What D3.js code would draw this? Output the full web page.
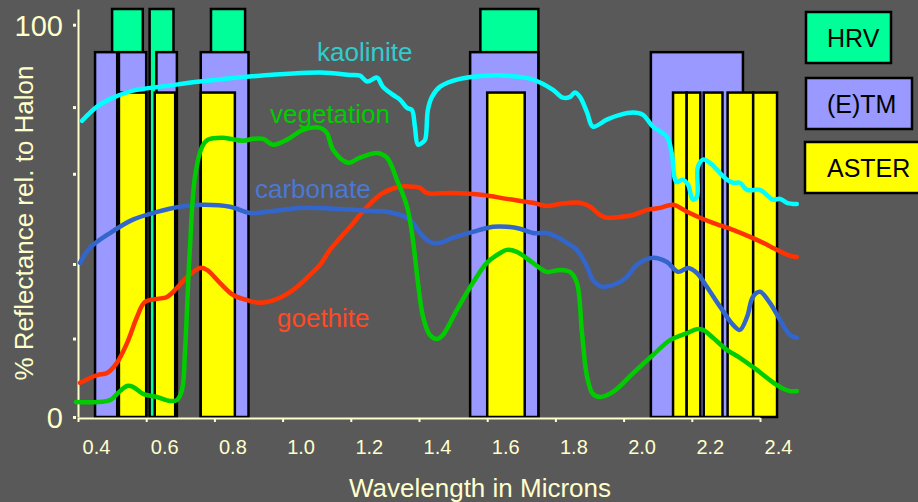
<!DOCTYPE html>
<html>
<head>
<meta charset="utf-8">
<script src="https://cdn.jsdelivr.net/npm/d3@7"></script>
<style>
  html, body { margin: 0; padding: 0; background: #595959; }
  svg { display: block; }
  text { font-family: "Liberation Sans", Arial, sans-serif; }
</style>
</head>
<body>
<svg id="chart" width="918" height="502"></svg>
<script>
// ---------------- DATA ----------------
const xTickValues = [0.4, 0.6, 0.8, 1.0, 1.2, 1.4, 1.6, 1.8, 2.0, 2.2, 2.4];
const xTickLabels = ["0.4", "0.6", "0.8", "1.0", "1.2", "1.4", "1.6", "1.8", "2.0", "2.2", "2.4"];
const yTickValues = [0, 20, 39, 62, 79, 100];
const yTickLabels = ["0", "", "", "", "", "100"];

// Sensor band passes [start, end] in microns, and bar heights (% units)
const hrvBands = [[0.50, 0.59], [0.61, 0.68], [0.79, 0.89], [1.58, 1.75]];
const tmBands = [[0.45, 0.515], [0.52, 0.60], [0.63, 0.69], [0.76, 0.90], [1.55, 1.75], [2.08, 2.35]];
const asterBands = [[0.52, 0.60], [0.625, 0.685], [0.76, 0.86], [1.60, 1.71],
                    [2.145, 2.185], [2.185, 2.225], [2.235, 2.29], [2.305, 2.38], [2.38, 2.45]];
const hrvHeight = 104;
const tmHeight = 93;
const asterHeight = 82.7;

// Spectra: wavelength (microns) and reflectance (%)
const kaoliniteWl = [0.412, 0.456, 0.503, 0.561, 0.661, 0.758, 0.904, 1.110, 1.198, 1.227, 1.248, 1.277, 1.294, 1.324, 1.344, 1.365, 1.379, 1.388, 1.397, 1.409, 1.418, 1.426, 1.438, 1.462, 1.520, 1.599, 1.658, 1.734, 1.793, 1.822, 1.843, 1.857, 1.872, 1.893, 1.910, 1.951, 1.989, 2.028, 2.057, 2.086, 2.127, 2.141, 2.155, 2.173, 2.189, 2.203, 2.215, 2.218, 2.233, 2.253, 2.274, 2.303, 2.321, 2.341, 2.362, 2.400, 2.420, 2.438, 2.459, 2.479, 2.508];
const kaoliniteR  = [75.5, 79.1, 81.4, 83.2, 84.4, 85.5, 86.8, 87.8, 87.2, 87.0, 85.5, 86.5, 84.2, 82.1, 80.9, 78.8, 78.3, 74.0, 69.4, 69.9, 70.7, 78.3, 81.6, 84.2, 86.2, 87.0, 87.0, 86.0, 83.4, 81.4, 81.6, 82.7, 81.6, 77.6, 74.0, 75.8, 77.0, 77.6, 77.0, 74.0, 71.4, 67.3, 59.9, 60.5, 59.2, 55.4, 56.1, 63.8, 65.6, 64.8, 63.0, 60.5, 59.7, 59.7, 57.9, 57.9, 56.6, 55.4, 55.6, 54.6, 54.3];

const vegetationWl = [0.394, 0.494, 0.517, 0.544, 0.561, 0.591, 0.632, 0.670, 0.690, 0.705, 0.714, 0.723, 0.728, 0.743, 0.764, 0.781, 0.825, 0.884, 0.913, 0.943, 0.972, 1.013, 1.060, 1.110, 1.130, 1.148, 1.192, 1.227, 1.277, 1.306, 1.335, 1.365, 1.382, 1.397, 1.412, 1.432, 1.453, 1.470, 1.511, 1.558, 1.599, 1.638, 1.658, 1.687, 1.734, 1.775, 1.813, 1.843, 1.863, 1.878, 1.893, 1.910, 1.931, 1.969, 2.028, 2.086, 2.136, 2.186, 2.215, 2.233, 2.262, 2.303, 2.341, 2.391, 2.429, 2.464, 2.488, 2.508];
const vegetationR  = [3.8, 4.3, 6.1, 7.9, 7.7, 5.9, 5.1, 4.1, 4.3, 6.9, 17.1, 34.2, 42.6, 61.2, 68.9, 70.7, 71.2, 70.4, 70.9, 70.9, 69.4, 70.7, 73.2, 73.7, 72.4, 68.1, 64.8, 66.1, 67.3, 66.1, 60.5, 53.6, 45.2, 34.2, 25.5, 20.9, 19.9, 20.9, 27.3, 34.2, 39.3, 41.8, 42.6, 42.1, 39.3, 37.0, 37.5, 37.0, 34.2, 21.4, 10.2, 5.9, 5.1, 6.4, 11.2, 15.8, 19.6, 21.4, 22.4, 22.2, 20.2, 17.1, 15.1, 12.0, 9.4, 7.4, 6.6, 6.6];

const carbonateWl = [0.406, 0.435, 0.494, 0.561, 0.632, 0.699, 0.767, 0.846, 0.904, 0.954, 1.051, 1.148, 1.248, 1.324, 1.374, 1.403, 1.432, 1.462, 1.500, 1.558, 1.617, 1.658, 1.696, 1.734, 1.775, 1.805, 1.834, 1.863, 1.893, 1.910, 1.940, 1.989, 2.010, 2.039, 2.086, 2.127, 2.160, 2.189, 2.215, 2.244, 2.283, 2.321, 2.341, 2.362, 2.379, 2.400, 2.429, 2.459, 2.488, 2.508];
const carbonateR  = [39.3, 43.1, 46.9, 50.3, 52.3, 53.6, 54.1, 53.6, 52.0, 52.3, 53.3, 53.1, 52.6, 52.0, 50.3, 46.9, 44.6, 44.4, 45.7, 47.2, 48.5, 48.5, 48.0, 46.9, 46.9, 45.9, 44.4, 42.6, 38.3, 34.9, 33.2, 34.4, 35.7, 38.8, 40.6, 39.5, 37.0, 38.0, 36.7, 33.2, 28.1, 23.5, 22.2, 25.5, 30.6, 31.9, 29.1, 24.7, 20.9, 20.2];

const goethiteWl = [0.406, 0.456, 0.485, 0.514, 0.544, 0.573, 0.596, 0.632, 0.661, 0.690, 0.720, 0.758, 0.778, 0.816, 0.855, 0.896, 0.934, 0.984, 1.031, 1.080, 1.110, 1.139, 1.198, 1.248, 1.294, 1.344, 1.382, 1.403, 1.423, 1.491, 1.588, 1.658, 1.734, 1.775, 1.813, 1.872, 1.902, 1.931, 1.951, 1.989, 2.028, 2.069, 2.107, 2.145, 2.186, 2.224, 2.262, 2.321, 2.371, 2.421, 2.438, 2.488, 2.508];
const goethiteR  = [8.7, 10.7, 11.2, 13.8, 18.9, 25.5, 29.3, 30.1, 30.6, 32.9, 35.7, 38.0, 37.5, 34.2, 31.1, 29.8, 29.1, 30.1, 32.4, 36.2, 38.8, 42.6, 48.5, 53.6, 57.1, 58.7, 58.7, 58.4, 57.1, 57.1, 56.6, 55.6, 54.6, 53.8, 54.3, 54.6, 53.6, 51.5, 50.8, 51.0, 51.5, 52.8, 53.3, 54.1, 52.3, 50.8, 49.5, 47.7, 45.9, 43.9, 43.1, 41.1, 40.8];

const seriesNames = ["goethite", "carbonate", "vegetation", "kaolinite"];
const legendNames = ["HRV", "(E)TM", "ASTER"];

// ---------------- CHART ----------------
const svg = d3.select("#chart");
const W = 918, H = 502;
const cream = "#ffffcc";

svg.append("rect").attr("width", W).attr("height", H).attr("fill", "#595959");

const x = d3.scaleLinear().domain([0.4, 2.4]).range([78, 760]);
const y = d3.scaleLinear().domain([0, 104]).range([417, 9]);

// Bands
function drawBands(bands, h, fill) {
  svg.append("g").selectAll("rect").data(bands).join("rect")
    .attr("x", d => x(d[0]))
    .attr("width", d => x(d[1]) - x(d[0]))
    .attr("y", y(h))
    .attr("height", y(0) - y(h))
    .attr("fill", fill)
    .attr("stroke", "#000")
    .attr("stroke-width", 2.5);
}
drawBands(hrvBands, hrvHeight, "#00ff99");
drawBands(tmBands, tmHeight, "#9999ff");
drawBands(asterBands, asterHeight, "#ffff00");

// X axis
const xAxis = d3.axisBottom(x).tickValues(xTickValues)
  .tickFormat((d, i) => xTickLabels[i]).tickSizeInner(4).tickSizeOuter(0);
const gx = svg.append("g").attr("transform", `translate(0,${y(0) + 1})`).call(xAxis);
gx.select(".domain").attr("stroke", cream).attr("stroke-width", 2);
gx.selectAll(".tick line").attr("stroke", cream).attr("stroke-width", 2);
gx.selectAll(".tick text").attr("fill", cream).attr("font-size", 20)
  .attr("dx", 18).attr("dy", 0).attr("y", 36);

// Y axis
const yAxis = d3.axisLeft(y).tickValues(yTickValues)
  .tickFormat((d, i) => yTickLabels[i]).tickSizeInner(4).tickSizeOuter(0);
const gy = svg.append("g").attr("transform", "translate(78,0)").call(yAxis);
gy.select(".domain").attr("stroke", cream).attr("stroke-width", 2);
gy.selectAll(".tick line").attr("stroke", cream).attr("stroke-width", 3)
  .attr("x1", -2).attr("x2", -5);
gy.selectAll(".tick text").attr("fill", cream).attr("font-size", 29)
  .attr("x", -15).attr("dy", "0.36em");

// Axis titles
svg.append("text").attr("transform", "translate(33,223) rotate(-90)")
  .attr("text-anchor", "middle").attr("fill", cream).attr("font-size", 26)
  .text("% Reflectance rel. to Halon");
svg.append("text").attr("x", 480).attr("y", 497)
  .attr("text-anchor", "middle").attr("fill", cream).attr("font-size", 26)
  .text("Wavelength in Microns");

// Spectra
const series = {
  goethite:   { wl: goethiteWl,   r: goethiteR,   color: "#ff3300", label: "#ff4a26", lx: 277, ly: 327 },
  carbonate:  { wl: carbonateWl,  r: carbonateR,  color: "#3366cc", label: "#4a78d4", lx: 255, ly: 198 },
  vegetation: { wl: vegetationWl, r: vegetationR, color: "#00cc00", label: "#00cc00", lx: 270, ly: 123 },
  kaolinite:  { wl: kaoliniteWl,  r: kaoliniteR,  color: "#00ffff", label: "#33cccc", lx: 317, ly: 61 }
};
const line = d3.line().x(d => x(d[0])).y(d => y(d[1])).curve(d3.curveCatmullRom.alpha(0.5));
seriesNames.forEach(name => {
  const s = series[name];
  const pts = s.wl.map((w, i) => [w, s.r[i]]);
  svg.append("path").datum(pts).attr("d", line)
    .attr("fill", "none").attr("stroke", s.color).attr("stroke-width", 4.5)
    .attr("stroke-linejoin", "round").attr("stroke-linecap", "round");
});
seriesNames.forEach(name => {
  const s = series[name];
  svg.append("text").attr("x", s.lx).attr("y", s.ly).attr("fill", s.label)
    .attr("font-size", 26).text(name);
});

// Legend
const legendColors = ["#00ff99", "#9999ff", "#ffff00"];
const legendBoxes = [[806, 12, 85], [806, 78, 106], [805, 142, 120]];
legendNames.forEach((n, i) => {
  const b = legendBoxes[i];
  svg.append("rect").attr("x", b[0]).attr("y", b[1]).attr("width", b[2]).attr("height", 51)
    .attr("fill", legendColors[i]).attr("stroke", "#000").attr("stroke-width", 2.5);
  svg.append("text").attr("x", 827).attr("y", b[1] + 35).attr("fill", "#000")
    .attr("font-size", 25).text(n);
});
</script>
</body>
</html>
